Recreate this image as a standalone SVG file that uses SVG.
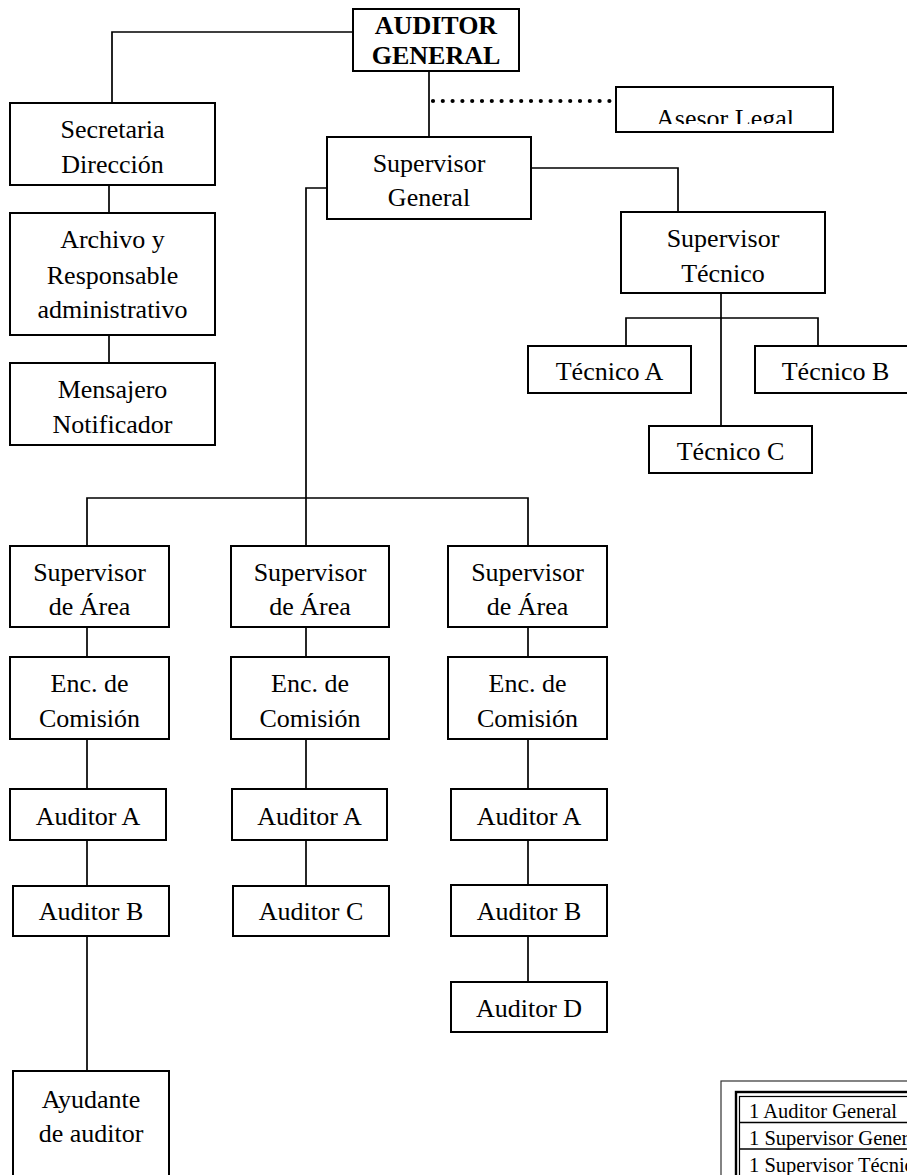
<svg xmlns="http://www.w3.org/2000/svg" width="907" height="1175" viewBox="0 0 907 1175">
<style>
.box{fill:#fff;stroke:#000;stroke-width:2}
.ln{fill:none;stroke:#000;stroke-width:1.7}
.t{font-family:"Liberation Serif","Times New Roman","DejaVu Serif",serif;font-size:26px;text-anchor:middle;fill:#000}
.b{font-weight:bold}
.tb{font-family:"Liberation Serif","Times New Roman","DejaVu Serif",serif;font-size:20.5px;fill:#000}
</style>
<defs>
<clipPath id="clipAsesor"><rect x="617" y="88" width="215" height="36"/></clipPath>
</defs>
<rect width="907" height="1175" fill="#fff"/>
<g id="connectors">
<polyline class="ln" points="353,32 112,32 112,103"/>
<line class="ln" x1="429" y1="71" x2="429" y2="137"/>
<line x1="433" y1="101" x2="616" y2="101" stroke="#000" stroke-width="4.2" stroke-linecap="round" stroke-dasharray="0 9.8"/>
<line class="ln" x1="109" y1="185" x2="109" y2="213"/>
<line class="ln" x1="109" y1="335" x2="109" y2="363"/>
<polyline class="ln" points="531,168 678,168 678,212"/>
<polyline class="ln" points="327,188 306,188 306,498"/>
<line class="ln" x1="721" y1="293" x2="721" y2="426"/>
<polyline class="ln" points="626,346 626,318 818,318 818,346"/>
<polyline class="ln" points="87,546 87,498 528,498 528,546"/>
<line class="ln" x1="306" y1="498" x2="306" y2="546"/>
<line class="ln" x1="87" y1="627" x2="87" y2="657"/>
<line class="ln" x1="87" y1="739" x2="87" y2="789"/>
<line class="ln" x1="87" y1="840" x2="87" y2="886"/>
<line class="ln" x1="87" y1="936" x2="87" y2="1071"/>
<line class="ln" x1="306" y1="627" x2="306" y2="657"/>
<line class="ln" x1="306" y1="739" x2="306" y2="789"/>
<line class="ln" x1="306" y1="840" x2="306" y2="886"/>
<line class="ln" x1="528" y1="627" x2="528" y2="657"/>
<line class="ln" x1="528" y1="739" x2="528" y2="789"/>
<line class="ln" x1="528" y1="840" x2="528" y2="885"/>
<line class="ln" x1="528" y1="936" x2="528" y2="982"/>
</g>
<g id="auditor-general"><rect class="box" x="353" y="9" width="166" height="62"/><text class="t b" x="436" y="34">AUDITOR</text><text class="t b" x="436" y="64">GENERAL</text></g>
<g id="asesor-legal"><rect class="box" x="616" y="87" width="217" height="45"/><text class="t" x="725" y="127" clip-path="url(#clipAsesor)">Asesor Legal</text></g>
<g id="secretaria"><rect class="box" x="10" y="103" width="205" height="82"/><text class="t" x="112.5" y="138">Secretaria</text><text class="t" x="112.5" y="173">Dirección</text></g>
<g id="archivo"><rect class="box" x="10" y="213" width="205" height="122"/><text class="t" x="112.5" y="248">Archivo y</text><text class="t" x="112.5" y="284">Responsable</text><text class="t" x="112.5" y="318">administrativo</text></g>
<g id="mensajero"><rect class="box" x="10" y="363" width="205" height="82"/><text class="t" x="112.5" y="398">Mensajero</text><text class="t" x="112.5" y="433">Notificador</text></g>
<g id="supervisor-general"><rect class="box" x="327" y="137" width="204" height="82"/><text class="t" x="429" y="172">Supervisor</text><text class="t" x="429" y="206">General</text></g>
<g id="supervisor-tecnico"><rect class="box" x="621" y="212" width="204" height="81"/><text class="t" x="723" y="247">Supervisor</text><text class="t" x="723" y="282">Técnico</text></g>
<g id="tecnico-a"><rect class="box" x="528" y="346" width="163" height="47"/><text class="t" x="609.5" y="380">Técnico A</text></g>
<g id="tecnico-b"><rect class="box" x="755" y="346" width="162" height="47"/><text class="t" x="835.5" y="380">Técnico B</text></g>
<g id="tecnico-c"><rect class="box" x="649" y="426" width="163" height="47"/><text class="t" x="730.5" y="460">Técnico C</text></g>
<g id="sup-area-1"><rect class="box" x="10" y="546" width="159" height="81"/><text class="t" x="89.5" y="581">Supervisor</text><text class="t" x="89.5" y="615">de Área</text></g>
<g id="sup-area-2"><rect class="box" x="231" y="546" width="158" height="81"/><text class="t" x="310" y="581">Supervisor</text><text class="t" x="310" y="615">de Área</text></g>
<g id="sup-area-3"><rect class="box" x="448" y="546" width="159" height="81"/><text class="t" x="527.5" y="581">Supervisor</text><text class="t" x="527.5" y="615">de Área</text></g>
<g id="enc-1"><rect class="box" x="10" y="657" width="159" height="82"/><text class="t" x="89.5" y="692">Enc. de</text><text class="t" x="89.5" y="727">Comisión</text></g>
<g id="enc-2"><rect class="box" x="231" y="657" width="158" height="82"/><text class="t" x="310" y="692">Enc. de</text><text class="t" x="310" y="727">Comisión</text></g>
<g id="enc-3"><rect class="box" x="448" y="657" width="159" height="82"/><text class="t" x="527.5" y="692">Enc. de</text><text class="t" x="527.5" y="727">Comisión</text></g>
<g id="auditor-a-1"><rect class="box" x="10" y="789" width="156" height="51"/><text class="t" x="88" y="825">Auditor A</text></g>
<g id="auditor-a-2"><rect class="box" x="232" y="789" width="155" height="51"/><text class="t" x="309.5" y="825">Auditor A</text></g>
<g id="auditor-a-3"><rect class="box" x="451" y="789" width="156" height="51"/><text class="t" x="529" y="825">Auditor A</text></g>
<g id="auditor-b-1"><rect class="box" x="13" y="886" width="156" height="50"/><text class="t" x="91" y="920">Auditor B</text></g>
<g id="auditor-c-2"><rect class="box" x="233" y="886" width="156" height="50"/><text class="t" x="311" y="920">Auditor C</text></g>
<g id="auditor-b-3"><rect class="box" x="451" y="885" width="156" height="51"/><text class="t" x="529" y="920">Auditor B</text></g>
<g id="auditor-d-3"><rect class="box" x="451" y="982" width="156" height="50"/><text class="t" x="529" y="1017">Auditor D</text></g>
<g id="ayudante"><rect class="box" x="13" y="1071" width="156" height="130"/><text class="t" x="91" y="1108">Ayudante</text><text class="t" x="91" y="1142">de auditor</text></g>
<g id="tabla">
<rect x="721" y="1081" width="220" height="140" fill="#fff" stroke="#333" stroke-width="1.2"/>
<rect x="736" y="1092" width="200" height="120" fill="none" stroke="#000" stroke-width="2.4"/>
<rect x="739.5" y="1096.5" width="200" height="120" fill="none" stroke="#000" stroke-width="1.2"/>
<line x1="739.5" y1="1122.5" x2="907" y2="1122.5" stroke="#000" stroke-width="1.4"/>
<line x1="739.5" y1="1149" x2="907" y2="1149" stroke="#000" stroke-width="1.4"/>
<text class="tb" x="749" y="1118">1 Auditor General</text>
<text class="tb" x="749" y="1145">1 Supervisor General</text>
<text class="tb" x="749" y="1172">1 Supervisor Técnico</text>
</g>
</svg>
